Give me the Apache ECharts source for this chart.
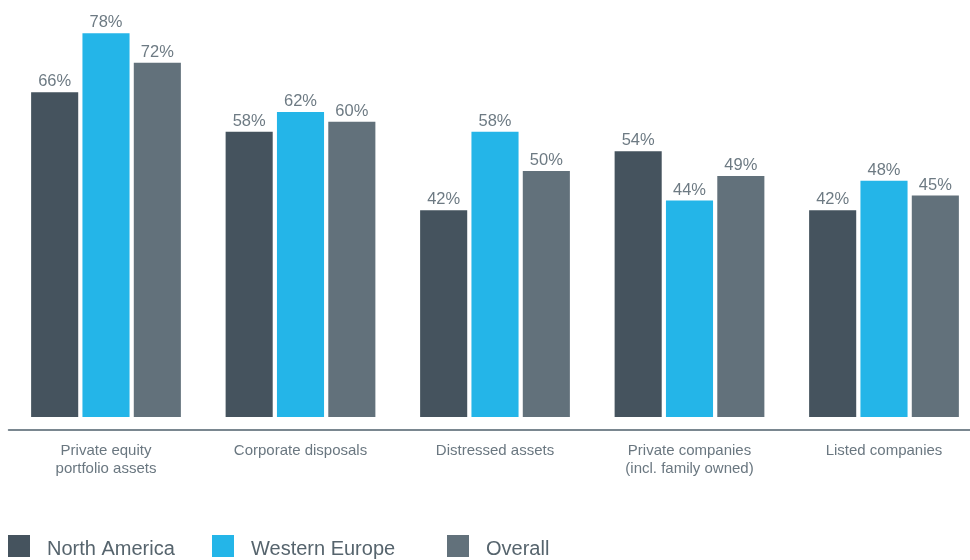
<!DOCTYPE html>
<html>
<head>
<meta charset="utf-8">
<script src="https://cdn.jsdelivr.net/npm/echarts@6/dist/echarts.min.js"></script>
<style>
html,body{margin:0;padding:0;background:#fff;overflow:hidden;width:970px;height:560px;}
#chart{width:982px;height:560px;}
</style>
</head>
<body>
<div id="chart"></div>
<script>
// Deal sources by region, share of respondents (%)
const categories = [
  'Private equity\nportfolio assets',
  'Corporate disposals',
  'Distressed assets',
  'Private companies\n(incl. family owned)',
  'Listed companies'
];
const seriesNames = ['North America', 'Western Europe', 'Overall'];
const northAmerica = [66, 58, 42, 54, 42];
const westernEurope = [78, 62, 58, 44, 48];
const overall = [72, 60, 50, 49, 45];

const colors = ['#45535e', '#24b5e8', '#62717b'];
const values = [northAmerica, westernEurope, overall];
const fontFamily = '"Liberation Sans", Arial, sans-serif';

const chart = echarts.init(document.getElementById('chart'), null, { renderer: 'canvas' });

const legendLefts = [8, 212, 447];

chart.setOption({
  animation: false,
  backgroundColor: '#ffffff',
  grid: { left: 8.75, width: 972.5, top: 23.4, bottom: 143, containLabel: false },
  legend: seriesNames.map((name, i) => ({
    data: [name],
    left: legendLefts[i],
    top: 535,
    padding: 0,
    icon: 'rect',
    itemWidth: 22,
    itemHeight: 22,
    selectedMode: false,
    formatter: '{t|{name}}',
    textStyle: {
      fontFamily: fontFamily,
      fontSize: 20,
      color: '#56646d',
      rich: {
        t: {
          fontFamily: fontFamily,
          fontSize: 20,
          color: '#56646d',
          padding: [7, 0, 0, 12]
        }
      }
    }
  })),
  xAxis: {
    type: 'category',
    data: categories,
    offset: 13,
    axisLine: { show: true, onZero: false, lineStyle: { color: '#7a8790', width: 2 } },
    axisTick: { show: false },
    axisLabel: {
      color: '#6a7780',
      fontFamily: fontFamily,
      fontSize: 15,
      lineHeight: 18,
      margin: 12
    }
  },
  yAxis: {
    type: 'value',
    min: 0,
    max: 80,
    show: false,
    splitLine: { show: false }
  },
  series: seriesNames.map((name, i) => ({
    name: name,
    type: 'bar',
    data: values[i],
    barGap: '9%',
    barCategoryGap: '23%',
    itemStyle: { color: colors[i] },
    label: {
      show: true,
      position: 'top',
      distance: 2,
      formatter: '{c}%',
      color: '#6d7a83',
      fontFamily: fontFamily,
      fontSize: 16.5
    }
  }))
});
</script>
</body>
</html>
